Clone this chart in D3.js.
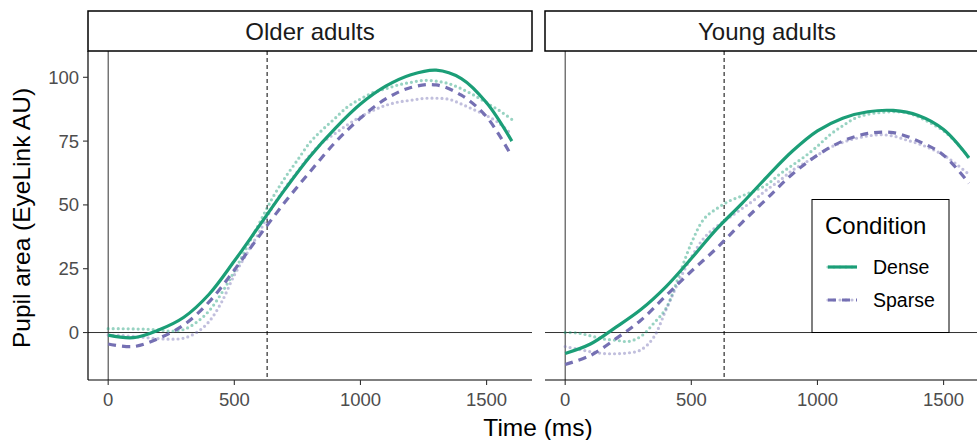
<!DOCTYPE html>
<html><head><meta charset="utf-8">
<script src="https://cdn.jsdelivr.net/npm/d3@7"></script>
<style>body{margin:0;background:#fff;overflow:hidden} svg{display:block} text{font-family:"Liberation Sans",Arial,sans-serif}</style>
</head><body><svg id="c" width="977" height="440"></svg>
<script>
const panels = ["Older adults", "Young adults"];
const conditions = ["Dense", "Sparse"];
const colors = ["#1b9e77", "#7570b3"];
const xTicks = [0, 500, 1000, 1500];
const yTicks = [0, 25, 50, 75, 100];
const onsetLine = 630;

const fitTime = [0,100,200,300,400,500,600,700,800,900,1000,1100,1200,1300,1400,1500,1600];
const obsTime = [0,50,100,150,200,250,300,350,400,450,500,550,600,650,700,750,800,850,900,950,1000,1050,1100,1150,1200,1250,1300,1350,1400,1450,1500,1550,1600];

const olderDenseFit  = [-1,-2,1,6,15,28,42,56,69,80,89.5,96.5,101,102.8,99.5,90,75];
const olderSparseFit = [-4.5,-5.5,-2.3,3,12,24.5,38,51,63,74.5,84,91.5,96,97,93,84.5,69];
const youngDenseFit  = [-8.2,-4.5,2,9,18,29,40.5,50.5,61,71,79,84,86.5,87,85,79.5,68.5];
const youngSparseFit = [-12.5,-9,-2.5,4.8,14.5,24,33,43,52.5,62,69.5,75,78,78.3,75,69.5,58.5];

const olderDenseObs  = [1.5,1.5,1.4,1.3,1.0,0.5,1.2,4,8.5,15.5,24,33.5,43,52.5,60.5,67.5,74.5,79.5,84,88.5,91.5,94,95.5,97,98,98.8,98.5,97.5,95.5,93,90,87,83.5];
const olderSparseObs = [-1,-1.2,-1.5,-2,-2.4,-2.6,-2.2,0,4.3,12,22.5,31,39.5,49,56.5,63,69.5,74.5,78,81.5,84.5,87,89,90.3,91,91.7,91.8,91.4,89.5,87.3,85,82,77.5];
const youngDenseObs  = [0,-0.2,-1.3,-2.5,-3,-3.5,-1.5,3.5,9.5,22,35,44.5,48.5,51.5,53.5,55.5,58,62,65.5,69,73,77.5,81,84,85.5,86.2,86.5,86.2,84.5,82,79,74.5,68.5];
const youngSparseObs = [-5.5,-6.5,-7.5,-8.2,-8.3,-8,-6.8,-2,9,20,29.5,37,41.5,45,48.5,52,56,59.5,63.5,66.5,69.5,72.5,74.5,76,77,77.5,77,75.5,74,72,69.5,66,62];

const fits = [[olderDenseFit, olderSparseFit], [youngDenseFit, youngSparseFit]];
const obs  = [[olderDenseObs, olderSparseObs], [youngDenseObs, youngSparseObs]];

const svg = d3.select("#c");
const plotTop = 51, plotBottom = 380;
const panelX = [[88, 532], [545, 989]];
const y = d3.scaleLinear().domain([-18.6, 110.3]).range([plotBottom, plotTop]);

const defs = svg.append("defs");

panels.forEach((name, p) => {
  const [x0, x1] = panelX[p];
  const x = d3.scaleLinear().domain([-80, 1680]).range([x0, x1]);
  defs.append("clipPath").attr("id", "clip" + p).append("rect")
    .attr("x", x0).attr("y", plotTop).attr("width", x1 - x0).attr("height", plotBottom - plotTop);
  const g = svg.append("g");
  const inner = g.append("g").attr("clip-path", `url(#clip${p})`);

  inner.append("line").attr("x1", x0).attr("x2", x1).attr("y1", y(0)).attr("y2", y(0))
    .attr("stroke", "#333").attr("stroke-width", 1);
  inner.append("line").attr("x1", x(0)).attr("x2", x(0)).attr("y1", plotTop).attr("y2", plotBottom)
    .attr("stroke", "#333").attr("stroke-width", 1);
  inner.append("line").attr("x1", x(onsetLine)).attr("x2", x(onsetLine)).attr("y1", plotTop).attr("y2", plotBottom)
    .attr("stroke", "#000").attr("stroke-width", 1).attr("stroke-dasharray", "4,3");

  const obsLine = d3.line().x((d, i) => x(obsTime[i])).y(d => y(d)).curve(d3.curveCatmullRom);
  const fitLine = d3.line().x((d, i) => x(fitTime[i])).y(d => y(d)).curve(d3.curveCatmullRom);

  conditions.forEach((c, k) => {
    inner.append("path").attr("d", obsLine(obs[p][k])).attr("fill", "none")
      .attr("stroke", colors[k]).attr("stroke-opacity", 0.45).attr("stroke-width", 3.2)
      .attr("stroke-linecap", "round").attr("stroke-dasharray", "0,5");
  });
  conditions.forEach((c, k) => {
    inner.append("path").attr("d", fitLine(fits[p][k])).attr("fill", "none")
      .attr("stroke", colors[k]).attr("stroke-width", 3.2)
      .attr("stroke-dasharray", k === 1 ? "8,6" : null);
  });

  g.append("line").attr("x1", x0).attr("x2", x1).attr("y1", plotBottom).attr("y2", plotBottom)
    .attr("stroke", "#000").attr("stroke-width", 1.2);
  xTicks.forEach(t => {
    g.append("line").attr("x1", x(t)).attr("x2", x(t)).attr("y1", plotBottom).attr("y2", plotBottom + 5)
      .attr("stroke", "#333").attr("stroke-width", 1.1);
    g.append("text").attr("x", x(t)).attr("y", plotBottom + 26).attr("text-anchor", "middle")
      .attr("font-size", 18.5).attr("fill", "#4d4d4d").text(t);
  });

  g.append("rect").attr("x", x0).attr("y", 11).attr("width", x1 - x0).attr("height", plotTop - 11)
    .attr("fill", "#fff").attr("stroke", "#000").attr("stroke-width", 1.5);
  g.append("text").attr("x", (x0 + x1) / 2).attr("y", 39.5).attr("text-anchor", "middle")
    .attr("font-size", 24).attr("fill", "#1a1a1a").text(name);

  if (p === 0) {
    g.append("line").attr("x1", x0).attr("x2", x0).attr("y1", plotTop).attr("y2", plotBottom)
      .attr("stroke", "#000").attr("stroke-width", 1.2);
    yTicks.forEach(v => {
      g.append("line").attr("x1", x0 - 5).attr("x2", x0).attr("y1", y(v)).attr("y2", y(v))
        .attr("stroke", "#333").attr("stroke-width", 1.1);
      g.append("text").attr("x", x0 - 9).attr("y", y(v) + 6.5).attr("text-anchor", "end")
        .attr("font-size", 18.5).attr("fill", "#4d4d4d").text(v);
    });
  }
});

svg.append("text").attr("x", 538).attr("y", 436).attr("text-anchor", "middle")
  .attr("font-size", 24.5).attr("fill", "#000").text("Time (ms)");
svg.append("text").attr("transform", "translate(30,218) rotate(-90)").attr("text-anchor", "middle")
  .attr("font-size", 24.5).attr("fill", "#000").text("Pupil area (EyeLink AU)");

const lg = svg.append("g");
lg.append("rect").attr("x", 812).attr("y", 199.5).attr("width", 137).attr("height", 133)
  .attr("fill", "#fff").attr("stroke", "#000").attr("stroke-width", 1);
lg.append("text").attr("x", 825).attr("y", 234).attr("font-size", 24).attr("fill", "#000").text("Condition");
conditions.forEach((c, k) => {
  const ky = 267 + k * 33;
  lg.append("line").attr("x1", 828).attr("x2", 857).attr("y1", ky).attr("y2", ky)
    .attr("stroke", colors[k]).attr("stroke-opacity", 0.45).attr("stroke-width", 3.2)
    .attr("stroke-linecap", "round").attr("stroke-dasharray", "0,6");
  lg.append("line").attr("x1", 828).attr("x2", 857).attr("y1", ky).attr("y2", ky)
    .attr("stroke", colors[k]).attr("stroke-width", 3.2)
    .attr("stroke-dasharray", k === 1 ? "8,6" : null);
  lg.append("text").attr("x", 873).attr("y", ky + 7).attr("font-size", 19.5).attr("fill", "#000").text(c);
});
</script></body></html>
